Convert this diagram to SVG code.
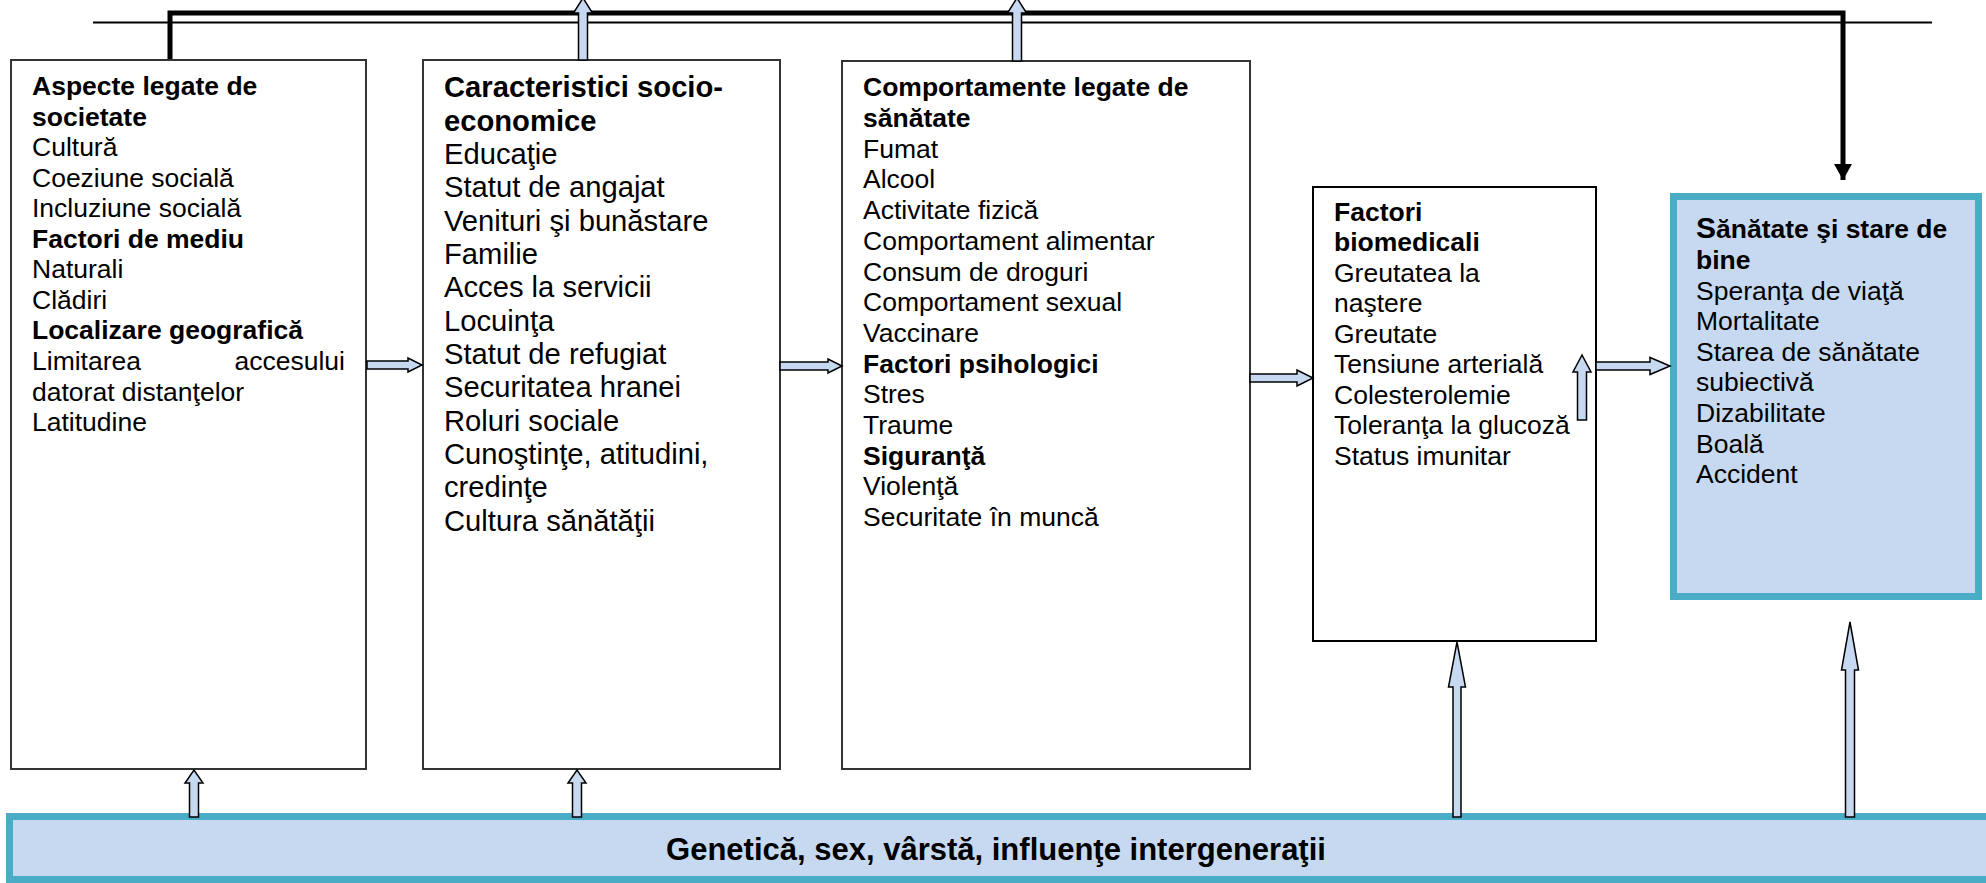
<svg xmlns="http://www.w3.org/2000/svg" width="1986" height="883" viewBox="0 0 1986 883">
<defs>
<style>
.box{fill:#fff;stroke:#333;stroke-width:2}
.hl{fill:#C6D9F1;stroke:#4BACC6;stroke-width:7}
.t{font-family:"Liberation Sans",Arial,sans-serif;font-size:26.5px;fill:#000}
.t2{font-family:"Liberation Sans",Arial,sans-serif;font-size:29.2px;fill:#000}
.b{font-weight:bold}
.blk{fill:#C6D9F1;stroke:#000;stroke-width:1.5;stroke-linejoin:miter}
.thick{fill:none;stroke:#000;stroke-width:5}
.thin{fill:none;stroke:#000;stroke-width:2}
</style>
<marker id="ah" markerWidth="4" markerHeight="4" refX="3.2" refY="2" orient="auto" markerUnits="strokeWidth" viewBox="0 0 4 4">
<path d="M0,0.2 L3.2,2 L0,3.8 Z" fill="#000"/>
</marker>
</defs>
<rect width="1986" height="883" fill="#fff"/>

<g id="connectors">
<line class="thin" x1="93" y1="22.5" x2="1932" y2="22.5"/>
<path class="thick" d="M170,61 L170,13 L1843,13 L1843,180" marker-end="url(#ah)"/>
</g>

<g id="n1">
<rect class="box" x="11" y="60" width="355" height="709"/>
<text class="t b" x="32" y="95">Aspecte legate de</text>
<text class="t b" x="32" y="125.5">societate</text>
<text class="t" x="32" y="156">Cultură</text>
<text class="t" x="32" y="186.7">Coeziune socială</text>
<text class="t" x="32" y="217.2">Incluziune socială</text>
<text class="t b" x="32" y="247.8">Factori de mediu</text>
<text class="t" x="32" y="278.3">Naturali</text>
<text class="t" x="32" y="308.9">Clădiri</text>
<text class="t b" x="32" y="339.4">Localizare geografică</text>
<text class="t" x="32" y="370">Limitarea</text>
<text class="t" x="345" y="370" text-anchor="end">accesului</text>
<text class="t" x="32" y="400.5">datorat distanţelor</text>
<text class="t" x="32" y="431">Latitudine</text>
</g>

<g id="n2">
<rect class="box" x="423" y="60" width="357" height="709"/>
<text class="t2 b" x="444" y="97.4">Caracteristici socio-</text>
<text class="t2 b" x="444" y="130.7">economice</text>
<text class="t2" x="444" y="164">Educaţie</text>
<text class="t2" x="444" y="197.4">Statut de angajat</text>
<text class="t2" x="444" y="230.7">Venituri şi bunăstare</text>
<text class="t2" x="444" y="264">Familie</text>
<text class="t2" x="444" y="297.4">Acces la servicii</text>
<text class="t2" x="444" y="330.7">Locuinţa</text>
<text class="t2" x="444" y="364">Statut de refugiat</text>
<text class="t2" x="444" y="397.4">Securitatea hranei</text>
<text class="t2" x="444" y="430.7">Roluri sociale</text>
<text class="t2" x="444" y="464">Cunoştinţe, atitudini,</text>
<text class="t2" x="444" y="497.4">credinţe</text>
<text class="t2" x="444" y="530.7">Cultura sănătăţii</text>
</g>

<g id="n3">
<rect class="box" x="842" y="61" width="408" height="708"/>
<text class="t b" x="863" y="96.3">Comportamente legate de</text>
<text class="t b" x="863" y="127">sănătate</text>
<text class="t" x="863" y="157.7">Fumat</text>
<text class="t" x="863" y="188.4">Alcool</text>
<text class="t" x="863" y="219.1">Activitate fizică</text>
<text class="t" x="863" y="249.8">Comportament alimentar</text>
<text class="t" x="863" y="280.5">Consum de droguri</text>
<text class="t" x="863" y="311.2">Comportament sexual</text>
<text class="t" x="863" y="341.9">Vaccinare</text>
<text class="t b" x="863" y="372.6">Factori psihologici</text>
<text class="t" x="863" y="403.3">Stres</text>
<text class="t" x="863" y="434">Traume</text>
<text class="t b" x="863" y="464.7">Siguranţă</text>
<text class="t" x="863" y="495.4">Violenţă</text>
<text class="t" x="863" y="526.1">Securitate în muncă</text>
</g>

<g id="n4">
<rect class="box" x="1313" y="187" width="283" height="454" style="stroke:#000"/>
<text class="t b" x="1334" y="220.7">Factori</text>
<text class="t b" x="1334" y="251.2">biomedicali</text>
<text class="t" x="1334" y="281.7">Greutatea la</text>
<text class="t" x="1334" y="312.2">naştere</text>
<text class="t" x="1334" y="342.7">Greutate</text>
<text class="t" x="1334" y="373.2">Tensiune arterială</text>
<text class="t" x="1334" y="403.7">Colesterolemie</text>
<text class="t" x="1334" y="434.2">Toleranţa la glucoză</text>
<text class="t" x="1334" y="464.7">Status imunitar</text>
</g>

<g id="n5">
<rect class="hl" x="1673.5" y="196.5" width="305" height="400"/>
<text class="t b" x="1696" y="238.3"><tspan style="font-size:30px">S</tspan>ănătate şi stare de</text>
<text class="t b" x="1696" y="268.9">bine</text>
<text class="t" x="1696" y="299.5">Speranţa de viaţă</text>
<text class="t" x="1696" y="330.1">Mortalitate</text>
<text class="t" x="1696" y="360.7">Starea de sănătate</text>
<text class="t" x="1696" y="391.3">subiectivă</text>
<text class="t" x="1696" y="421.9">Dizabilitate</text>
<text class="t" x="1696" y="452.5">Boală</text>
<text class="t" x="1696" y="483.1">Accident</text>
</g>

<g id="n6">
<rect class="hl" x="9.5" y="816.5" width="1990" height="63"/>
<text class="b" x="996" y="860" text-anchor="middle" style="font-family:'Liberation Sans',Arial,sans-serif;font-size:31px">Genetică, sex, vârstă, influenţe intergeneraţii</text>
</g>

<g id="block-arrows">
<path class="blk" d="M578.5,60 L578.5,13 L573.5,13 L583,-2 L592.5,13 L587.5,13 L587.5,60 Z"/>
<path class="blk" d="M1012.5,61 L1012.5,13 L1007.5,13 L1017,-2 L1026.5,13 L1021.5,13 L1021.5,61 Z"/>
<path class="blk" d="M189.5,817 L189.5,783 L185,783 L194,770 L203,783 L198.5,783 L198.5,817 Z"/>
<path class="blk" d="M572.5,817 L572.5,783 L568,783 L577,770 L586,783 L581.5,783 L581.5,817 Z"/>
<path class="blk" d="M1453,817 L1453,687 L1448.5,687 L1457,642 L1465.5,687 L1461,687 L1461,817 Z"/>
<path class="blk" d="M1845.5,817 L1845.5,670 L1841.5,670 L1850,622 L1858.5,670 L1854.5,670 L1854.5,817 Z"/>
<path class="blk" d="M1577.5,420 L1577.5,372 L1573,372 L1582,355 L1591,372 L1586.5,372 L1586.5,420 Z"/>
<path class="blk" d="M367,361 L408,361 L408,358 L422,365 L408,372 L408,369 L367,369 Z"/>
<path class="blk" d="M780,362 L828,362 L828,359 L842,366 L828,373 L828,370 L780,370 Z"/>
<path class="blk" d="M1250,374 L1297,374 L1297,370 L1313,378 L1297,386 L1297,382 L1250,382 Z"/>
<path class="blk" d="M1596,362 L1650,362 L1650,357.5 L1670,366 L1650,374.5 L1650,370 L1596,370 Z"/>
</g>
</svg>
